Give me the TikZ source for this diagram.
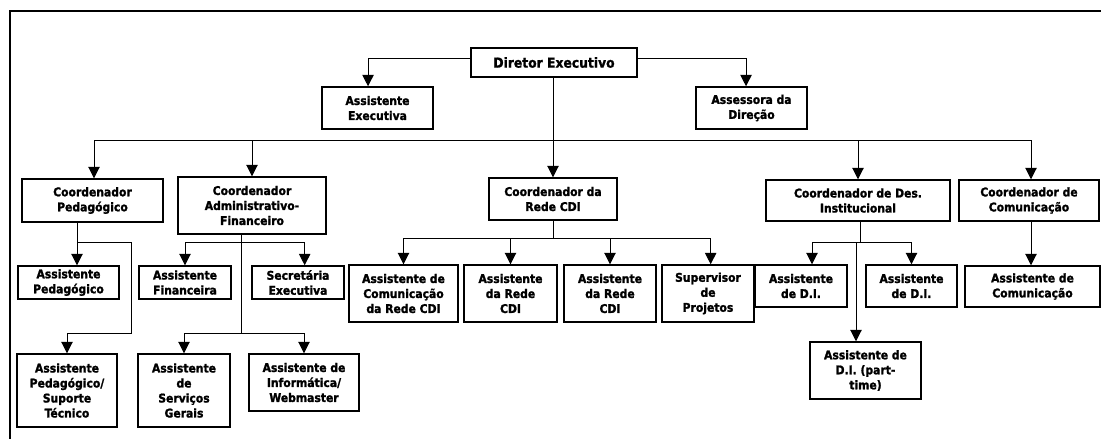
\documentclass[tikz,border=0pt]{standalone}
\usepackage{fontspec}
\newfontfamily\orgfont{DejaVu Sans Condensed}[BoldFeatures={FakeBold=1.5}]
\usepackage{tikz}
\usetikzlibrary{arrows.meta,calc,positioning}
\tikzset{
        cargo/.style = {draw, rectangle, line width=1.1pt, align=center,
            inner sep=0pt,
            font=\orgfont\bfseries\fontsize{9}{11.25}\selectfont},
        liga/.style = {draw, line width=0.75pt},
        seta/.style = {draw, line width=0.75pt,
            -{Triangle[width=8.5pt,length=8.5pt]}},
    }

\begin{document}
\begin{tikzpicture}[x=0.75pt,y=0.75pt,yscale=-1,xscale=1]
\useasboundingbox (0,0) rectangle (1101,439);

%Frame
\draw [line width=1pt] (1101,11) -- (10,11) -- (10,439) ;

% Text Node
\node [cargo, minimum width=124.5pt, minimum height=21.75pt,
  font=\orgfont\bfseries\fontsize{10.3}{12}\selectfont] (dir) at (554,62.5) {Diretor Executivo};
% Text Node
\node [cargo, minimum width=83.25pt, minimum height=31.5pt] (asexe) at (377.5,108) {Assistente\\Executiva};
% Text Node
\node [cargo, minimum width=83.25pt, minimum height=31.5pt] (asdir) at (751.5,108) {Assessora da\\Direção};

% Text Node
\node [cargo, minimum width=105.75pt, minimum height=32.25pt] (cped) at (92.5,200.5) {Coordenador\\Pedagógico};
% Text Node
\node [cargo, minimum width=111pt, minimum height=42.75pt] (cadm) at (252,205.5) {Coordenador\\Administrativo-\\Financeiro};
% Text Node
\node [cargo, minimum width=96pt, minimum height=31.5pt] (crede) at (553,199) {Coordenador da\\Rede CDI};
% Text Node
\node [cargo, minimum width=138pt, minimum height=30.75pt] (cdi) at (858,200.5) {Coordenador de Des.\\Institucional};
% Text Node
\node [cargo, minimum width=105pt, minimum height=30.75pt] (ccom) at (1029,200.5) {Coordenador de\\Comunicação};

% Text Node
\node [cargo, minimum width=75.75pt, minimum height=24.75pt] (aped) at (68.5,282.5) {Assistente\\Pedagógico};
% Text Node
\node [cargo, minimum width=75pt, minimum height=54.75pt] (apst) at (67,390.5) {Assistente\\Pedagógico/\\Suporte\\Técnico};
% Text Node
\node [cargo, minimum width=69pt, minimum height=24.75pt] (afin) at (185,282.5) {Assistente\\Financeira};
% Text Node
\node [cargo, minimum width=69pt, minimum height=24.75pt] (secr) at (298,282.5) {Secretária\\Executiva};
% Text Node
\node [cargo, minimum width=69pt, minimum height=54.75pt] (aserv) at (184,390.5) {Assistente\\de\\Serviços\\Gerais};
% Text Node
\node [cargo, minimum width=82.5pt, minimum height=42.75pt] (ainf) at (304,382.5) {Assistente de\\Informática/\\Webmaster};

% Text Node
\node [cargo, minimum width=81.75pt, minimum height=42.75pt] (acrede) at (403.5,293.5) {Assistente de\\Comunicação\\da Rede CDI};
% Text Node
\node [cargo, minimum width=69.75pt, minimum height=42.75pt] (arede1) at (510.5,293.5) {Assistente\\da Rede\\CDI};
% Text Node
\node [cargo, minimum width=69pt, minimum height=42.75pt] (arede2) at (610,293.5) {Assistente\\da Rede\\CDI};
% Text Node
\node [cargo, minimum width=69pt, minimum height=42.75pt] (sup) at (708,293.5) {Supervisor\\de\\Projetos};

% Text Node
\node [cargo, minimum width=69pt, minimum height=31.5pt] (adi1) at (801,286) {Assistente\\de D.I.};
% Text Node
\node [cargo, minimum width=68.25pt, minimum height=31.5pt] (adi2) at (911.5,286) {Assistente\\de D.I.};
% Text Node
\node [cargo, minimum width=83.25pt, minimum height=42.75pt] (adipt) at (865.5,370.5) {Assistente de\\D.I. (part-\\time)};
% Text Node
\node [cargo, minimum width=101.25pt, minimum height=30.75pt] (acom) at (1032.5,286.5) {Assistente de\\Comunicação};

%Straight Lines
\draw [seta] ([yshift=-3pt]dir.west) -| ([xshift=-7.1pt]asexe.north) ;
\draw [seta] ([yshift=-3pt]dir.east) -| ([xshift=-4.1pt]asdir.north) ;
\draw [seta] (dir.south -| crede.north) -- (crede.north) ;

%Straight Lines
\coordinate (busL) at (94,140) ;
\coordinate (busR) at (1031,140) ;
\draw [liga] (busL) -- (busR) ;
\draw [seta] (busL) -- (busL |- cped.north) ;
\draw [seta] (busL -| cadm.north) -- (cadm.north) ;
\draw [seta] (busL -| cdi.north) -- (cdi.north) ;
\draw [seta] (busR) -- (busR |- ccom.north) ;

%Straight Lines
\coordinate (pedJ) at (77,242) ;
\coordinate (pedR) at (131,242) ;
\coordinate (pedB) at (131,333) ;
\coordinate (pedL) at (67,333) ;
\draw [liga] (cped.south -| pedJ) -- (pedJ) -- (pedR) -- (pedB) -- (pedL) ;
\draw [seta] (pedJ) -- (pedJ |- aped.north) ;
\draw [seta] (pedL) -- (pedL |- apst.north) ;

%Straight Lines
\coordinate (admA) at (241,242) ;
\coordinate (admB) at (241,333) ;
\draw [liga] (cadm.south -| admA) -- (admB) ;
\draw [seta] (admA) -| (afin.north) ;
\draw [seta] (admA) -| ([xshift=5pt]secr.north) ;
\draw [seta] (admB) -| (aserv.north) ;
\draw [seta] (admB) -| (ainf.north) ;

%Straight Lines
\coordinate (redeJ) at (553,238) ;
\draw [liga] (crede.south) -- (redeJ) ;
\draw [seta] (redeJ) -| (acrede.north) ;
\draw [seta] (redeJ) -| (arede1.north) ;
\draw [seta] (redeJ) -| (arede2.north) ;
\draw [seta] (redeJ) -| ([xshift=2pt]sup.north) ;

%Straight Lines
\coordinate (diJ) at (860,242) ;
\coordinate (diV) at (856,242) ;
\draw [liga] (cdi.south -| diJ) -- (diJ) ;
\draw [seta] (diJ) -| ([xshift=8.25pt]adi1.north) ;
\draw [seta] (diJ) -| (adi2.north) ;
\draw [seta] (diV) -- (diV |- adipt.north) ;

%Straight Lines
\draw [seta] (ccom.south -| busR) -- (busR |- acom.north) ;

\end{tikzpicture}
\end{document}
